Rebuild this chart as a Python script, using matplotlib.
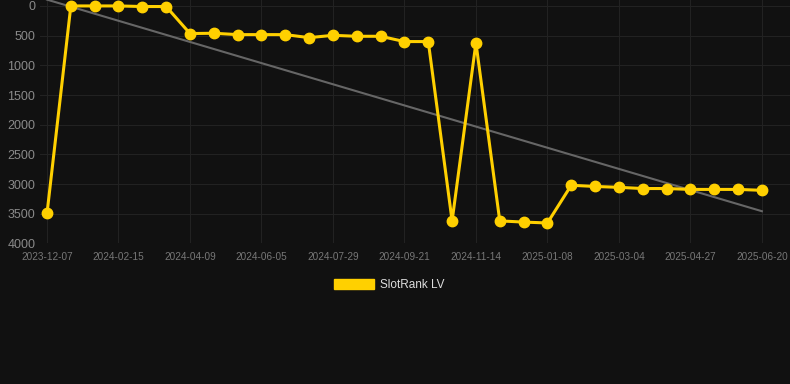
import numpy as np
import matplotlib
matplotlib.use("Agg")
import matplotlib.pyplot as plt
from matplotlib.patches import Patch

# category dates (one point per snapshot), ticks shown every 3rd point
tick_labels = ["2023-12-07", "2024-02-15", "2024-04-09", "2024-06-05", "2024-07-29",
               "2024-09-21", "2024-11-14", "2025-01-08", "2025-03-04", "2025-04-27",
               "2025-06-20"]
rank = [3495, 0, 0, 0, 10, 10,
        465, 460, 483, 483, 483, 534, 495, 511, 511,
        600, 600, 3620, 620, 3620, 3640, 3655,
        3020, 3040, 3055, 3075, 3075, 3090, 3090, 3090, 3105]
series_name = "SlotRank LV"

x = np.arange(len(rank))
# linear trend over the series
slope, intercept = np.polyfit(x, rank, 1)

bg = "#111111"
fig = plt.figure(figsize=(7.9, 3.84), dpi=100, facecolor=bg)
ax = fig.add_axes([0.05, 0.366, 0.95, 0.634], facecolor=bg)

ax.plot(x, slope * x + intercept, color="#666666", lw=1.5, zorder=2)
ax.plot(x, rank, color="#FFD000", lw=2.2, marker="o", ms=7.5,
        solid_joinstyle="miter", zorder=3)

ax.set_xlim(-0.315, 31.18)
ax.set_ylim(4000, -100)
ax.set_yticks(range(0, 4001, 500))
ax.set_xticks(x[::3])
ax.set_xticklabels(tick_labels)

ax.grid(True, color="#222222", lw=0.8)
for s in ax.spines.values():
    s.set_visible(False)
ax.tick_params(axis="y", length=0, pad=3, labelsize=9, labelcolor="#8a8a8a")
ax.tick_params(axis="x", length=0, pad=6, labelsize=7.2, labelcolor="#777777")
for t in ax.get_yticklabels() + ax.get_xticklabels():
    t.set_fontfamily("Liberation Sans")

fig.legend(handles=[Patch(color="#FFD000", label=series_name)],
           loc="center", bbox_to_anchor=(0.493, 0.258), frameon=False,
           handlelength=3.4, handleheight=1.0, handletextpad=0.5,
           prop={"family": "Liberation Sans", "size": 8.5},
           labelcolor="#dddddd")

fig.savefig("out.png", facecolor=bg)
